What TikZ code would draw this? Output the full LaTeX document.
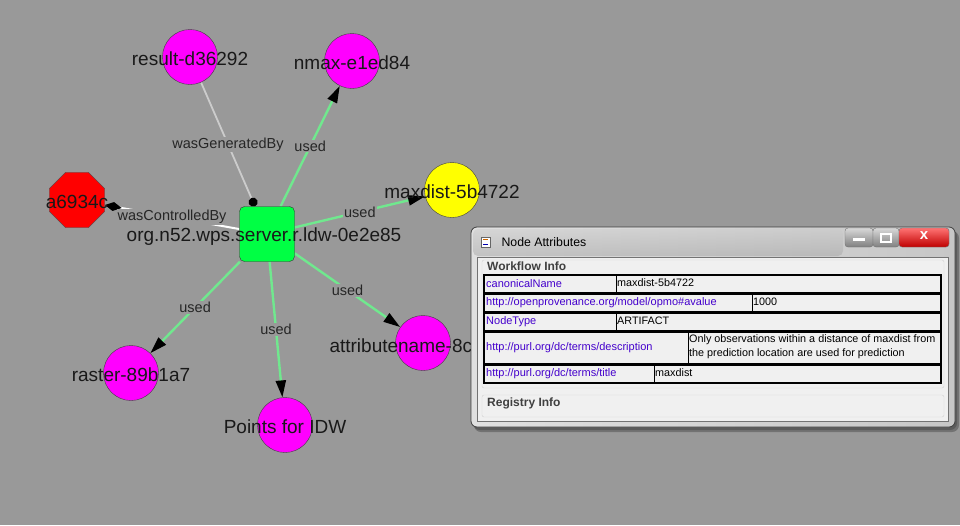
\documentclass[tikz,border=0pt]{standalone}
\usepackage{xcolor}
\usepackage{fontspec}
\setmainfont{Liberation Sans}
\usetikzlibrary{shapes.geometric,arrows.meta}
\definecolor{canvas}{HTML}{999999}
\definecolor{usedgreen}{HTML}{70E88E}
\definecolor{procgreen}{HTML}{00FF44}
\definecolor{artmagenta}{HTML}{FF00FF}
\definecolor{artyellow}{HTML}{FFFF00}
\definecolor{agentred}{HTML}{FF0000}
\definecolor{keyblue}{HTML}{4400CC}
\definecolor{panel}{HTML}{F0F0F0}
\pgfdeclarelayer{bg}
\pgfdeclarelayer{edges}
\pgfsetlayers{bg,edges,main}

\begin{document}
\begin{tikzpicture}[x=1pt,y=-1pt,
    nodefont/.style={font=\fontsize{19}{21}\selectfont, text=black!90, yshift=-1.5pt},
    artifact/.style={circle, draw=black!75, fill=artmagenta, minimum size=55pt, inner sep=0pt},
    process/.style={rectangle, rounded corners=5pt, draw=black!80, fill=procgreen, minimum size=55pt, inner sep=0pt},
    agent/.style={regular polygon, regular polygon sides=8, draw=black!70, fill=agentred, minimum size=60pt, inner sep=0pt},
    elbl/.style={fill=canvas, inner sep=1pt, font=\fontsize{14.5}{16}\selectfont, text=black!85},
    used/.style={usedgreen, line width=2.4pt, -{Triangle[length=17pt,width=10pt,black]}},
    genby/.style={black!20, line width=1.8pt, -{Circle[length=9pt,black]}},
    ctrlby/.style={white, line width=2pt, -{Diamond[length=17pt,width=9pt,black]}},
    cell/.style={draw=black, line width=1.3pt, fill=panel},
    keytext/.style={anchor=west, inner sep=1pt, text=keyblue, font=\fontsize{11}{14}\selectfont},
    valtext/.style={anchor=west, inner sep=1pt, text=black, font=\fontsize{10.8}{14}\selectfont, align=left},
    grouptext/.style={anchor=west, text=black!75, font=\bfseries\fontsize{12}{14}\selectfont}]

    \begin{pgfonlayer}{bg}
    \fill[canvas] (0,0) rectangle (960,525);
    \end{pgfonlayer}

    % Process in the middle
    \node[process, label={[nodefont, xshift=-3pt, yshift=-1.5pt]center:org.n52.wps.server.r.ldw-0e2e85}] (srv) at (267,234) {};

    % Artifacts
    \node[artifact, label={[nodefont]center:result-d36292}] (res) at (190,57) {};
    \node[artifact, label={[nodefont]center:nmax-e1ed84}] (nmax) at (352,61) {};
    \node[artifact, fill=artyellow, label={[nodefont]center:maxdist-5b4722}] (maxd) at (452,190) {};
    \node[artifact, label={[nodefont]center:raster-89b1a7}] (rast) at (131,373) {};
    \node[artifact, label={[nodefont]center:Points for IDW}] (pts) at (285,425) {};
    \node[artifact] (attr) at (423,343) {};
    \node[nodefont, anchor=west] (attrlbl) at (326,344) {attributename-8c};

    % Agent
    \node[agent, label={[nodefont]center:a6934c}] (agt) at (77,200) {};

    % Edges
    \begin{pgfonlayer}{edges}
    \draw[genby] (res) -- node[elbl] {wasGeneratedBy} (srv);
    \draw[ctrlby] (srv) -- node[elbl] {wasControlledBy} (agt);
    \draw[used] (srv) -- node[elbl] {used} (nmax);
    \draw[used] (srv) -- node[elbl] {used} (maxd);
    \draw[used] (srv) -- node[elbl] {used} (rast);
    \draw[used] (srv) -- node[elbl] {used} (pts);
    \draw[used] (srv) -- node[elbl] {used} (attr);
    \end{pgfonlayer}

    % Node Attributes window
    \fill[black, opacity=0.25, rounded corners=7pt] (474,231) rectangle (959,432);
    \fill[black, opacity=0.2, rounded corners=7pt] (473,229) rectangle (957,430);
    \shade[draw=black!75, line width=0.8pt, rounded corners=6pt,
        left color=black!12, middle color=black!38, right color=black!22] (471,227) rectangle (955,427);
    \shade[rounded corners=5pt, top color=white!80!black, bottom color=black!35, opacity=0.5] (473,229) rectangle (843,256);
    \node[draw=black!60, fill=white, minimum width=9pt, minimum height=10pt, inner sep=0pt] (icon) at (486,242) {};
    \draw[orange!80!black, line width=1pt] (icon.north west) ++(2,3) -- ++(5,0);
    \draw[blue!70!black, line width=1pt] (icon.south west) ++(2,-3) -- ++(5,0);
    \node[anchor=west, font=\fontsize{12.3}{14}\selectfont] (title) at (498,242) {Node Attributes};

    % title buttons
    \shade[draw=black!55, rounded corners=3pt, top color=black!15, bottom color=black!50] (845,228) rectangle (873,247);
    \shade[draw=black!55, rounded corners=3pt, top color=black!15, bottom color=black!50] (873,228) rectangle (899,247);
    \shade[draw=black!55, rounded corners=3pt, top color=red!55!white, bottom color=red!75!black] (899,228) rectangle (949,247);
    \fill[white] (853,238) rectangle (865,241);
    \draw[white, line width=1.3pt] (881,234) rectangle (891,242);
    \node[white, font=\bfseries\fontsize{15}{15}\selectfont] (closex) at (924,236) {x};

    % panel
    \draw[black!55, fill=panel] (477,257) rectangle (948,421);
    \draw[black!18, rounded corners=2pt] (482,260) rectangle (944,388);
    \draw[black!18, rounded corners=2pt] (482,395) rectangle (944,417);
    \node[grouptext, fill=panel, inner sep=1pt] (wfinfo) at (486,266) {Workflow Info};
    \node[grouptext, fill=panel, inner sep=1pt] (reginfo) at (486,403) {Registry Info};

    % attribute rows
    \draw[cell] (484,275) rectangle (941,293);
    \draw[black, line width=1pt] (616,275) -- (616,293);
    \node[keytext] (k1) at (485,284) {canonicalName};
    \node[valtext] (v1) at (616,283) {maxdist-5b4722};

    \draw[cell] (484,294) rectangle (941,312);
    \draw[black, line width=1pt] (752,294) -- (752,312);
    \node[keytext] (k2) at (485,303) {http://openprovenance.org/model/opmo\#avalue};
    \node[valtext] (v2) at (752,302) {1000};

    \draw[cell] (484,313) rectangle (941,331);
    \draw[black, line width=1pt] (616,313) -- (616,331);
    \node[keytext] (k3) at (485,322) {NodeType};
    \node[valtext] (v3) at (616,321) {ARTIFACT};

    \draw[cell] (484,332) rectangle (941,364);
    \draw[black, line width=1pt] (688,332) -- (688,364);
    \node[keytext] (k4) at (485,348) {http://purl.org/dc/terms/description};
    \node[valtext] (v4) at (688,347) {Only observations within a distance of maxdist from\\the prediction location are used for prediction};

    \draw[cell] (484,365) rectangle (941,383);
    \draw[black, line width=1pt] (654,365) -- (654,383);
    \node[keytext] (k5) at (485,374) {http://purl.org/dc/terms/title};
    \node[valtext] (v5) at (654,373) {maxdist};

    \useasboundingbox (0,0) rectangle (960,525);
\end{tikzpicture}
\end{document}
